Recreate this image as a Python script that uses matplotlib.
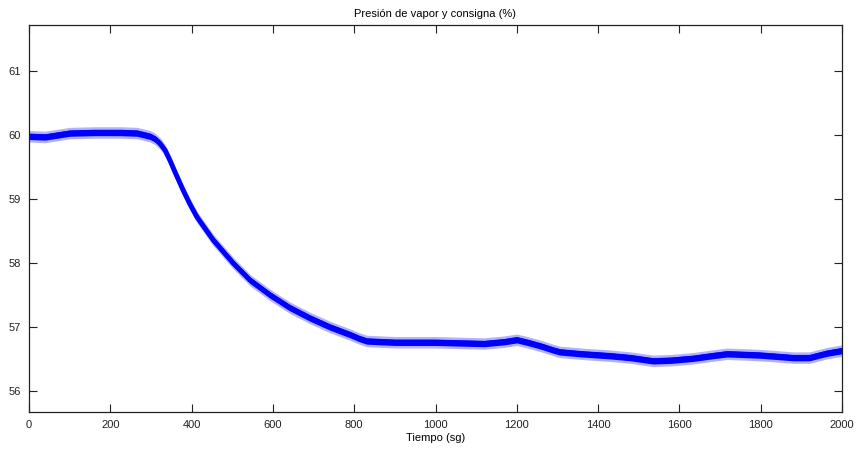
import matplotlib
matplotlib.use("Agg")
import matplotlib.pyplot as plt
import numpy as np

# Time (s) and centre of the pressure trace
t = [0, 40, 100, 160, 224, 266, 298, 310, 322, 335, 347, 362, 379, 395, 413, 453,
     502, 544, 593, 642, 691, 740, 790, 812, 831, 900, 1000, 1060, 1120, 1170, 1200,
     1232, 1260, 1289, 1306, 1360, 1429, 1480, 1535, 1580, 1634, 1680, 1717, 1760,
     1798, 1840, 1880, 1920, 1963, 2000]
p = [59.98, 59.97, 60.03, 60.04, 60.04, 60.03, 59.98, 59.94, 59.87, 59.76, 59.60,
     59.38, 59.14, 58.93, 58.72, 58.36, 58.00, 57.73, 57.50, 57.30, 57.14, 57.00,
     56.88, 56.82, 56.78, 56.76, 56.76, 56.75, 56.74, 56.77, 56.80, 56.75, 56.70,
     56.64, 56.61, 56.58, 56.55, 56.52, 56.47, 56.48, 56.51, 56.55, 56.58, 56.57,
     56.56, 56.54, 56.52, 56.52, 56.59, 56.63]
# half-width of the noise band (units of %)
band_core = 0.05
band_outer = 0.09

xticks = [0, 200, 400, 600, 800, 1000, 1200, 1400, 1600, 1800, 2000]
yticks = [56, 57, 58, 59, 60, 61]

plt.rcParams['font.family'] = ['Liberation Sans', 'DejaVu Sans']

fig = plt.figure(figsize=(8.57, 4.51), dpi=100)
ax = fig.add_axes([29/857, 39/451, 813/857, 387/451])

tt = np.array(t, dtype=float)
pp = np.array(p, dtype=float)
ax.fill_between(tt, pp - band_outer, pp + band_outer, color='#0000ff', alpha=0.3, lw=0)
ax.fill_between(tt, pp - band_core, pp + band_core, color='#0000ff', lw=0)
ax.plot(tt, pp, color='#0000ff', lw=3.5, solid_joinstyle='round')

ax.set_xlim(0, 2000)
ax.set_ylim(55.67, 61.72)
ax.set_xticks(xticks)
ax.set_yticks(yticks)
ax.set_xticklabels([str(v) for v in xticks])
ax.set_yticklabels([str(v) for v in yticks])
ax.tick_params(direction='in', length=5.5, width=0.8, top=True, right=True,
               labelsize=8, colors='#222222', pad=6)
for s in ax.spines.values():
    s.set_linewidth(0.9)
    s.set_color('#222222')

ax.set_title('Presión de vapor y consigna (%)', fontsize=8, pad=6)
ax.set_xlabel('Tiempo (sg)', fontsize=8, labelpad=2)

fig.savefig('out.png', dpi=100)
